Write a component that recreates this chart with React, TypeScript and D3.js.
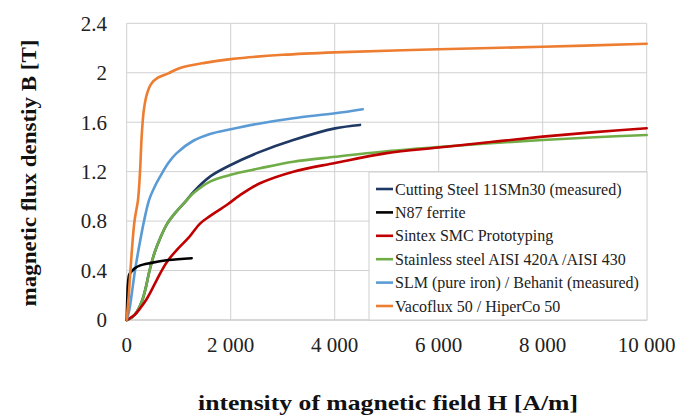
import React from "react";
import * as d3 from "d3";

const seriesNames = [
  "Cutting Steel 11SMn30 (measured)",
  "N87 ferrite",
  "Sintex SMC Prototyping",
  "Stainless steel AISI 420A /AISI 430",
  "SLM (pure iron) / Behanit (measured)",
  "Vacoflux 50 / HiperCo 50",
];
const seriesColors = ["#203864", "#000000", "#C00000", "#70AD47", "#5B9BD5", "#ED7D31"];

// [H (A/m), B (T)]
const cuttingSteel: [number, number][] = [
  [0, 0], [100, 0.02], [200, 0.07], [300, 0.16], [360, 0.25], [440, 0.4], [540, 0.55], [642, 0.66],
  [780, 0.78], [961, 0.88], [1154, 0.97], [1281, 1.035], [1602, 1.16], [2000, 1.254], [2563, 1.36],
  [3204, 1.456], [4006, 1.55], [4487, 1.578],
];
const n87Ferrite: [number, number][] = [
  [0, 0], [10, 0.15], [25, 0.3], [50, 0.37], [100, 0.395], [160, 0.42], [250, 0.44], [450, 0.46],
  [800, 0.485], [1250, 0.5],
];
const sintexSMC: [number, number][] = [
  [0, 0], [150, 0.04], [250, 0.09], [385, 0.17], [550, 0.3], [673, 0.4], [800, 0.485], [961, 0.566],
  [1200, 0.67], [1410, 0.78], [1600, 0.84], [1923, 0.93], [2180, 1.01], [2563, 1.106], [3204, 1.2],
  [4006, 1.27], [5000, 1.35], [6000, 1.395], [7000, 1.44], [8000, 1.483], [9000, 1.52], [10000, 1.551],
];
const stainless: [number, number][] = [
  [0, 0], [100, 0.02], [200, 0.07], [300, 0.16], [360, 0.25], [440, 0.4], [540, 0.55], [642, 0.66],
  [780, 0.78], [961, 0.88], [1154, 0.97], [1281, 1.025], [1602, 1.12], [2000, 1.175], [2563, 1.227],
  [3204, 1.28], [4006, 1.32], [5000, 1.365], [6000, 1.40], [7000, 1.43], [8000, 1.456], [9000, 1.478],
  [10000, 1.497],
];
const slmIron: [number, number][] = [
  [0, 0], [50, 0.08], [100, 0.22], [160, 0.4], [250, 0.62], [333, 0.8], [430, 0.97], [540, 1.08],
  [642, 1.16], [800, 1.27], [961, 1.35], [1281, 1.45], [1602, 1.505], [2000, 1.543], [2563, 1.59],
  [3204, 1.632], [4006, 1.672], [4540, 1.705],
];
const vacoflux: [number, number][] = [
  [0, 0], [40, 0.2], [80, 0.45], [150, 0.8], [217, 0.97], [256, 1.2], [290, 1.5], [330, 1.7],
  [390, 1.83], [470, 1.91], [600, 1.96], [800, 1.995], [1000, 2.035], [1500, 2.08], [2000, 2.11],
  [3000, 2.145], [4000, 2.165], [6000, 2.19], [8000, 2.21], [10000, 2.235],
];
const seriesData = [cuttingSteel, n87Ferrite, sintexSMC, stainless, slmIron, vacoflux];

const xTicks = [0, 2000, 4000, 6000, 8000, 10000];
const xTickLabels = ["0", "2 000", "4 000", "6 000", "8 000", "10 000"];
const yTicks = [0, 0.4, 0.8, 1.2, 1.6, 2, 2.4];
const yTickLabels = ["0", "0.4", "0.8", "1.2", "1.6", "2", "2.4"];
const xTitle = "intensity of magnetic field H [A/m]";
const yTitle = "magnetic flux denstiy B [T]";

const W = 678;
const H = 420;
const plot = { left: 126.7, right: 646.7, top: 23.3, bottom: 320 };
const font = "'Liberation Serif', 'Times New Roman', serif";

export default function App() {
  const x = d3.scaleLinear().domain([0, 10000]).range([plot.left, plot.right]);
  const y = d3.scaleLinear().domain([0, 2.4]).range([plot.bottom, plot.top]);
  const line = d3
    .line<[number, number]>()
    .x((d) => x(d[0]))
    .y((d) => y(d[1]))
    .curve(d3.curveCatmullRom.alpha(0.5));

  const legend = { x: 369, y: 172, w: 278, h: 148, row0: 189, rowGap: 23.4 };
  const drawOrder = [0, 3, 2, 4, 1, 5];

  return (
    <svg
      width={W}
      height={H}
      style={{ position: "absolute", left: 0, top: 0, background: "#fff" }}
      fontFamily={font}
    >
      <rect x={0} y={0} width={W} height={H} fill="#fff" />
      {xTicks.map((t) => (
        <line key={"gx" + t} x1={x(t)} x2={x(t)} y1={plot.top} y2={plot.bottom} stroke="#d0d0d0" strokeWidth={1} />
      ))}
      {yTicks.map((t) => (
        <line key={"gy" + t} x1={plot.left} x2={plot.right} y1={y(t)} y2={y(t)} stroke="#d0d0d0" strokeWidth={1} />
      ))}
      <line x1={plot.left} x2={plot.right} y1={plot.bottom} y2={plot.bottom} stroke="#c8c8c8" strokeWidth={1} />
      {drawOrder.map((i) => (
        <path
          key={"s" + i}
          d={line(seriesData[i]) || ""}
          fill="none"
          stroke={seriesColors[i]}
          strokeWidth={2.6}
          strokeLinejoin="round"
          strokeLinecap="round"
        />
      ))}
      {yTicks.map((t, i) => (
        <text key={"yl" + t} x={107} y={y(t)} dy="0.35em" textAnchor="end" fontSize={21} fill="#222">
          {yTickLabels[i]}
        </text>
      ))}
      {xTicks.map((t, i) => (
        <text key={"xl" + t} x={x(t)} y={352} textAnchor="middle" fontSize={21} fill="#222">
          {xTickLabels[i]}
        </text>
      ))}
      <g>
        <rect x={legend.x} y={legend.y} width={legend.w} height={legend.h} fill="#fff" stroke="#d0d0d0" strokeWidth={1} />
        {seriesNames.map((name, i) => {
          const cy = legend.row0 + i * legend.rowGap;
          return (
            <g key={"lg" + i}>
              <line x1={376} x2={393} y1={cy} y2={cy} stroke={seriesColors[i]} strokeWidth={2.6} />
              <text x={395} y={cy} dy="0.35em" fontSize={16} fill="#222">
                {name}
              </text>
            </g>
          );
        })}
      </g>
      <text
        x={388}
        y={410}
        textAnchor="middle"
        fontSize={22}
        fontWeight="bold"
        fill="#111"
        textLength={380}
        lengthAdjust="spacingAndGlyphs"
      >
        {xTitle}
      </text>
      <text
        transform={`translate(36, ${173}) rotate(-90)`}
        textAnchor="middle"
        fontSize={22}
        fontWeight="bold"
        fill="#111"
        textLength={267}
        lengthAdjust="spacingAndGlyphs"
      >
        {yTitle}
      </text>
    </svg>
  );
}
